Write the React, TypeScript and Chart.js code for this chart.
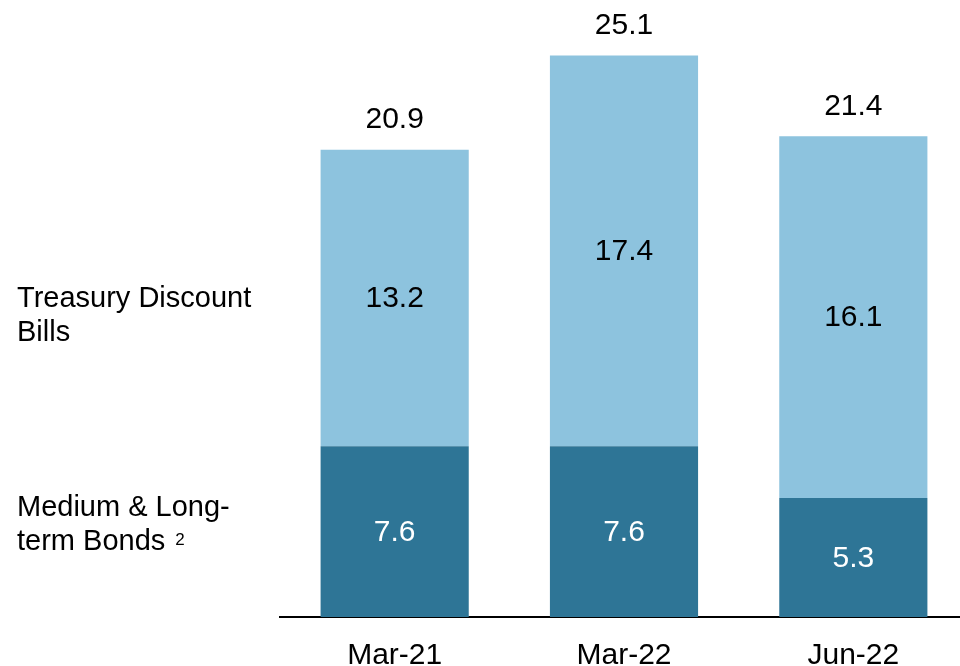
import React, { useEffect, useRef } from "react";
import { Chart, registerables } from "chart.js";

Chart.register(...registerables);

const categories = ["Mar-21", "Mar-22", "Jun-22"];
const bondsValues = [7.6, 7.6, 5.3];
const billsValues = [13.2, 17.4, 16.1];
const totalValues = [20.9, 25.1, 21.4];

const DARK = "#2E7596";
const LIGHT = "#8DC3DE";
const FONT = "'Liberation Sans', Arial, Helvetica, sans-serif";

const labelsPlugin = {
  id: "valueLabels",
  afterDatasetsDraw(chart: any) {
    const ctx = chart.ctx;
    ctx.save();
    ctx.font = `30px ${FONT}`;
    ctx.textAlign = "center";
    ctx.textBaseline = "middle";
    chart.data.datasets.forEach((ds: any, di: number) => {
      const meta = chart.getDatasetMeta(di);
      meta.data.forEach((bar: any, i: number) => {
        const v = ds.data[i];
        const mid = (bar.y + bar.base) / 2;
        ctx.fillStyle = di === 0 ? "#ffffff" : "#000000";
        ctx.fillText(v.toFixed(1), bar.x, mid + 1);
        if (di === chart.data.datasets.length - 1) {
          ctx.fillStyle = "#000000";
          ctx.fillText(totalValues[i].toFixed(1), bar.x, bar.y - 30);
        }
      });
    });
    // series names on the left
    ctx.textAlign = "left";
    ctx.textBaseline = "alphabetic";
    ctx.fillStyle = "#000000";
    ctx.font = `29px ${FONT}`;
    ctx.fillText("Treasury Discount", 17, 307);
    ctx.fillText("Bills", 17, 341);
    ctx.fillText("Medium & Long-", 17, 516);
    ctx.fillText("term Bonds", 17, 550);
    const w = ctx.measureText("term Bonds ").width;
    ctx.font = `17px ${FONT}`;
    ctx.fillText("2", 17 + w + 2, 545);
    ctx.restore();
  },
};

export default function App() {
  const ref = useRef<HTMLCanvasElement>(null);
  useEffect(() => {
    document.body.style.margin = "0";
    const chart = new Chart(ref.current!, {
      type: "bar",
      data: {
        labels: categories,
        datasets: [
          { label: "Medium & Long-term Bonds", data: bondsValues, backgroundColor: DARK },
          { label: "Treasury Discount Bills", data: billsValues, backgroundColor: LIGHT },
        ],
      },
      options: {
        animation: false,
        responsive: false,
        layout: { padding: { left: 280, right: 0, top: 0, bottom: 0 } },
        datasets: { bar: { categoryPercentage: 1, barPercentage: 0.646 } },
        plugins: { legend: { display: false }, tooltip: { enabled: false } },
        scales: {
          x: {
            stacked: true,
            grid: { display: false, drawTicks: false },
            border: { display: true, color: "#000000", width: 2 },
            ticks: { color: "#000000", font: { family: FONT, size: 30 }, padding: 21 },
            afterFit: (scale: any) => {
              scale.height = 49;
            },
          },
          y: {
            stacked: true,
            display: false,
            min: 0,
            max: 27.47,
          },
        },
      },
      plugins: [labelsPlugin],
    });
    return () => chart.destroy();
  }, []);
  return (
    <div style={{ width: 960, height: 666, overflow: "hidden" }}>
      <canvas ref={ref} width={968} height={666} style={{ display: "block" }} />
    </div>
  );
}
